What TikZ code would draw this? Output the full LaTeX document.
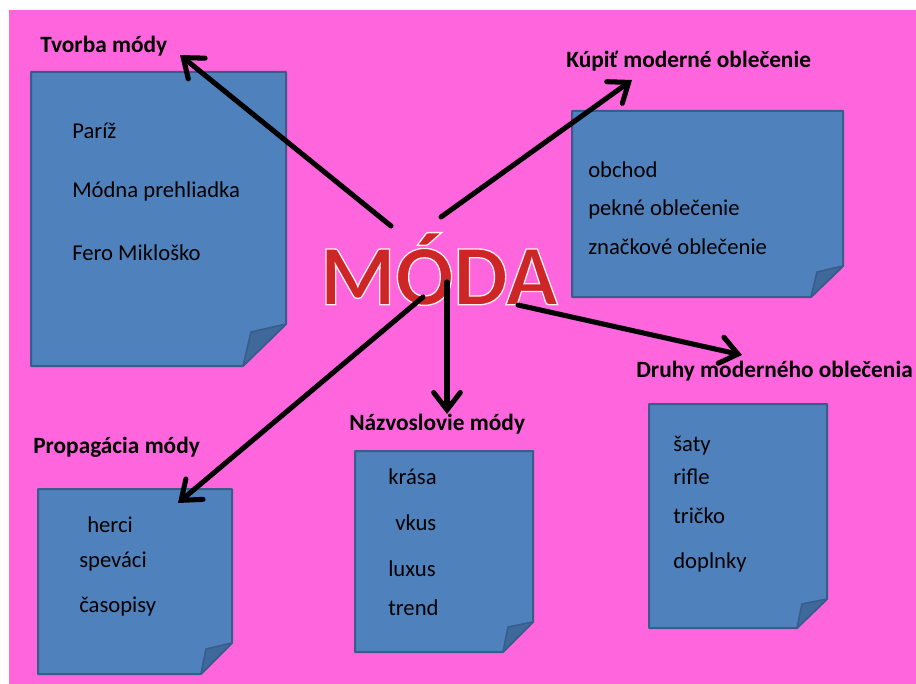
\documentclass[tikz,border=0pt]{standalone}
\usepackage{fontspec}
\setmainfont{Carlito}
\usepackage{tikz}
\usetikzlibrary{arrows.meta}
\definecolor{pinkbg}{RGB}{255,102,221}
\definecolor{notefill}{RGB}{79,129,189}
\definecolor{noteline}{RGB}{56,93,138}
\definecolor{notefold}{RGB}{63,105,155}
\definecolor{modared}{RGB}{206,38,38}

\begin{document}
\begin{tikzpicture}[x=0.75pt,y=-0.75pt,
  note/.style={fill=notefill,draw=noteline,line width=1.5pt,line join=round},
  fold/.style={fill=notefold,draw=noteline,line width=1.2pt,line join=round},
  item/.style={anchor=west,inner sep=0pt,font=\fontsize{17}{20}\selectfont},
  title/.style={anchor=west,inner sep=0pt,font=\fontsize{17.5}{20}\selectfont\bfseries},
  big/.style={inner sep=0pt,font=\fontsize{64.5}{70}\selectfont\bfseries},
  link/.style={line width=3.8pt,line cap=round,line join=round,
    -{Straight Barb[length=13pt,width=20pt,line cap=round]}}]
\useasboundingbox (0,0) rectangle (916,684);
\path [fill=white] (0,0) rectangle (916,684);
\path [fill=pinkbg] (9,10) rectangle (916,684);
% listky
\path [note] (31,72) -- (286,72) -- (286,324) -- (243,366) -- (31,366) -- cycle;
\path [fold] (286,324) -- (251,332) -- (243,366) -- cycle;
\path [note] (572,111) -- (843,111) -- (843,266) -- (811,297) -- (572,297) -- cycle;
\path [fold] (843,266) -- (817,272) -- (811,297) -- cycle;
\path [note] (649,404) -- (827,404) -- (827,599) -- (797,628) -- (649,628) -- cycle;
\path [fold] (827,599) -- (802,604) -- (797,628) -- cycle;
\path [note] (38,489) -- (232,489) -- (232,643) -- (201,674) -- (38,674) -- cycle;
\path [fold] (232,643) -- (206,649) -- (201,674) -- cycle;
\path [note] (355,451) -- (533,451) -- (533,622) -- (503,652) -- (355,652) -- cycle;
\path [fold] (533,622) -- (508,627) -- (503,652) -- cycle;
% nadpisy
\node [title] (tvorba) at (40,46) {Tvorba módy};
\node [title] (kupit) at (566,61) {Kúpiť moderné oblečenie};
\node [title] (druhy) at (636,371) {Druhy moderného oblečenia};
\node [title] (propag) at (33,447) {Propagácia módy};
\node [title] (nazvy) at (349,424) {Názvoslovie módy};
% polozky
\node [item] (pariz) at (72,131) {Paríž};
\node [item] (show) at (72,191) {Módna prehliadka};
\node [item] (fero) at (72,253) {Fero Mikloško};
\node [item] (obchod) at (588,170) {obchod};
\node [item] (pekne) at (588,209) {pekné oblečenie};
\node [item] (znacka) at (588,247) {značkové oblečenie};
\node [item] (saty) at (673,446) {šaty};
\node [item] (rifle) at (673,477) {rifle};
\node [item] (tricko) at (673,516) {tričko};
\node [item] (doplnky) at (673,562) {doplnky};
\node [item] (herci) at (87,525) {herci};
\node [item] (spevaci) at (79,562) {speváci};
\node [item] (casopisy) at (79,607) {časopisy};
\node [item] (krasa) at (388,477) {krása};
\node [item] (vkus) at (395,523) {vkus};
\node [item] (luxus) at (388,569) {luxus};
\node [item] (trend) at (388,608) {trend};
% MODA, biely obrys cez rezim 2 Tr
\node [big,text=modared] (moda) at (439,269)
  {\special{pdf:literal direct 2 Tr 1 0.93 0.93 RG 1 w}MÓDA\special{pdf:literal direct 0 Tr}};
% sipky
\coordinate (s1) at (391,226); \coordinate (e1) at (180,55);
\coordinate (s2) at (441,217); \coordinate (e2) at (632,80);
\coordinate (s3) at (518,305); \coordinate (e3) at (742,355);
\coordinate (s4) at (447,282); \coordinate (e4) at (447,414);
\coordinate (s5) at (423,297); \coordinate (e5) at (178,503);
\draw [link] (s1) -- (e1);
\draw [link] (s2) -- (e2);
\draw [link] (s3) -- (e3);
\draw [link] (s4) -- (e4);
\draw [link] (s5) -- (e5);
\end{tikzpicture}
\end{document}
